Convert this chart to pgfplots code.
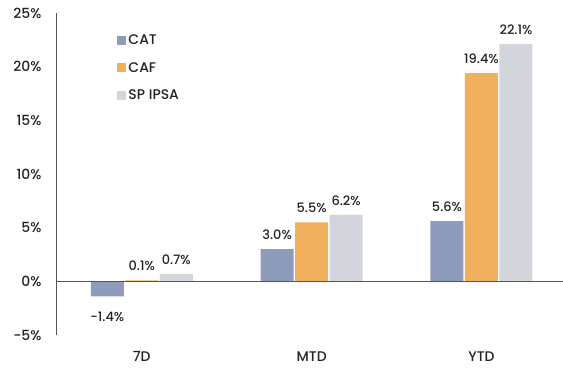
\documentclass[border=0pt]{standalone}
\usepackage{pgfplots}
\pgfplotsset{compat=1.18}
\usepackage{fontspec}
\setmainfont{Poppins Medium}
\definecolor{catc}{HTML}{8F9BBA}
\definecolor{cafc}{HTML}{F0B05E}
\definecolor{ipsac}{HTML}{D3D5DD}
\definecolor{axc}{HTML}{555555}
\definecolor{txt}{HTML}{222222}
\begin{document}
\begin{tikzpicture}
\begin{axis}[
  scale only axis,
  width=507bp, height=322bp,
  ybar=1.5bp, bar width=33bp,
  xmin=-0.505, xmax=2.48,
  ymin=-5, ymax=25,
  xtick={0,1,2}, xticklabels={7D,MTD,YTD},
  ytick={-5,0,5,10,15,20,25},
  yticklabels={-5\%,0\%,5\%,10\%,15\%,20\%,25\%},
  axis lines=left,
  axis line style={-},
  x axis line style={draw=none},
  y axis line style={draw=axc, line width=0.9pt},
  major tick length=0pt,
  tick label style={font=\fontsize{14}{16}\selectfont, text=txt},
  yticklabel style={xshift=-11bp},
  xticklabel style={yshift=-13bp},
  /pgf/number format/assume math mode=true,
  nodes near coords={\pgfmathprintnumber[fixed,fixed zerofill,precision=1]{\pgfplotspointmeta}\%},
  nodes near coords style={font=\fontsize{13}{15}\selectfont, text=txt, inner ysep=9bp},
  legend image code/.code={\fill[#1] (0bp,-4.5bp) rectangle (9bp,4.5bp);},
  legend style={draw=none, fill=none, at={(0.115,0.945)}, anchor=north west,
    font=\fontsize{14}{16}\selectfont, text=txt, row sep=12bp,
    /tikz/every even column/.append style={column sep=4bp}},
  legend cell align=left,
  clip=false,
]
\addplot[fill=catc, draw=none, coordinate style/.condition={y<0}{yshift=-6bp}] coordinates {(0,-1.4) (1,3.0) (2,5.6)};
\addplot[fill=cafc, draw=none] coordinates {(0,0.1) (1,5.5) (2,19.4)};
\addplot[fill=ipsac, draw=none] coordinates {(0,0.7) (1,6.2) (2,22.1)};
\legend{CAT,CAF,SP IPSA}
\draw[axc, line width=0.9pt] (axis cs:-0.505,0) -- (axis cs:2.48,0);
\end{axis}
\pgfresetboundingbox
\path ([xshift=-56bp,yshift=-39bp]current axis.south west) rectangle ([yshift=13bp]current axis.north east);
\end{tikzpicture}
\end{document}
